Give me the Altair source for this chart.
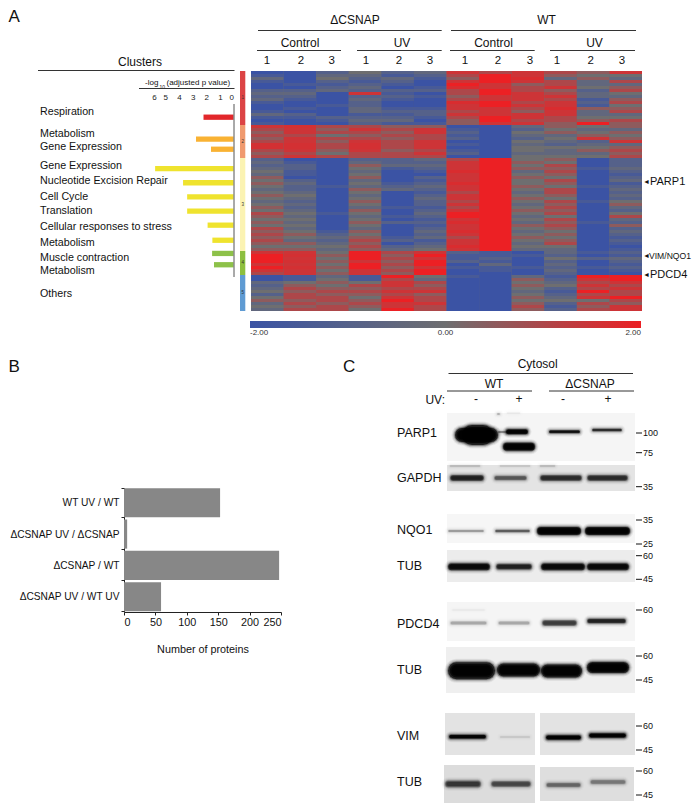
import altair as alt
import pandas as pd

FONT = "Liberation Sans"
# ---------- heat map: z-scores, one list per sample, split by cluster ----------
dc1 = [-2,-1.5,-.5,-1.5,-2,-2,-1,-.5,-1,-.5,-1.5,-2,-2,-1.5,-.5,-1.5,-2,-1.5,
       1.5,1,.5,1,.5,1,1.6,1.6,1,.5,1,
       -1,-.5,-1,-.5,0,-.5,.5,0,.5,0,-.5,0,.5,0,-.5,0,.5,0,1,.5,0,.5,0,1,.5,1,.5,1,.5,0,.5,
       1.5,2,2,2,1.5,2,1.5,1,
       -2,-2,-.5,-1,-.5,0,-1,0,.5,-.5,0,-.5]
dc2 = [-2,-2,-2,-2,-1.5,-2,-1,-.5,-1,-1.5,-2,-2,-1.5,-2,-1,-1.5,-2,-2,
       1.6,1.5,1.5,1,1.5,1.5,1.6,1.6,1.5,1,1.5,
       -2,-1.5,-1,-1,-1.5,-1.5,-2,-1,-.5,-1,-1,-.5,0,-.5,-1,-.5,-1,-.5,0,-.5,0,-.5,0,-.5,0,.5,0,-.5,.5,0,.5,
       1.5,1.6,1.5,1.6,1.5,1.6,1.5,1.5,
       -1.5,-1.5,0,.5,1,.5,1,1,.5,1,.5,1]
dc3 = [-1,-.5,0,-1,-1.5,-1,-.5,-2,-2,-2,-2,-1.5,-2,-2,-2,-1,-1.5,-2,
       1,.5,1,0,1,.5,1,1,.5,0,1,
       -2,-2,-2,-2,-2,-2,-2,-2,-2,-1.5,-2,-2,-2,-2,-2,-2,-2,-2,-1.5,-2,-2,-2,-2,-2,-1.5,-1,-.5,-1,-.5,0,-.5,
       0,.5,0,.5,0,.5,0,.5,
       -.5,0,.5,0,.5,1,.5,1,1,.5,1,1]
du1 = [0,-.5,-1,-1.5,-1,-.5,-1,1.5,-1,-.5,-1,-1,-.5,-.5,-1.5,-1,-.5,-1,
       1,1.5,1,.5,1,1.5,1.6,1.6,1.5,1,1,
       -1,-.5,.5,0,-.5,0,.5,-.5,0,-.5,.5,0,-.5,0,.5,0,-.5,.5,0,-.5,0,.5,0,-.5,.5,0,.5,1,.5,1,.5,
       2,2,2,1.5,2,2,1.5,1.5,
       -1.5,-1.5,0,1,.5,1,.5,0,.5,1,.5,0]
du2 = [-1,-1.5,-.5,-1,-1.5,-2,-1,-1.5,-1,-1.5,-2,-2,-1.5,-1,-1.5,-1,-.5,-1.5,
       .5,1,.5,1,.5,1,1,1,.5,1,1,
       -1,-1,-.5,-1.5,-2,-2,-2,-2,-1.5,-1,-.5,-2,-2,-2,-2,-2,-1.5,-2,-2,-1.5,-2,-1,-2,-2,-2,-2,-1.5,-1,-2,-1,-.5,
       1,.5,1,.5,1,.5,1,.5,
       2,1,1.5,1.5,1,1.5,1,1.5,2,1.5,1.5,2]
du3 = [-.5,-1,-1.5,-2,-2,-1.5,-1,-2,-1.5,-2,-2,-2,-1.5,-1,-1,-1.5,-2,-1.5,
       .5,1.5,1.5,1,1,1.5,1.5,1.5,1,1.5,1,
       -.5,-1,-.5,-1,-1.5,-2,-1,-1.5,-1,-.5,-1,-1.5,-1,-.5,-1,-1,-1.5,-1,-.5,-1,-1.5,-1,-1.5,-1,-.5,-1,-.5,-1.5,-1,-.5,0,
       1.5,2,1.5,2,2,1.5,2,2,
       0,-.5,1,.5,1,1.5,.5,1,1,1.5,1,1]
wc1 = [1.5,1,.5,1.5,2,1.7,1,1,.5,1,1.7,1.5,1.5,1,1.5,1,.5,.5,
       -2,-1.5,-1,-1.5,-1,-2,-1.5,-2,-1.5,-1,-2,
       1,1.5,1.5,1.5,1.7,1.5,1.5,1.5,1.7,1.5,1.5,1,1.5,1.5,1,1.5,1,1.5,2,2,1.5,1.7,1.5,1.5,1.7,1.5,1,1.5,1.5,1.7,1.5,
       -1,-1.5,-1.5,-1,-2,-1.5,-2,-2,
       -1.5,-2,-2,-2,-2,-2,-2,-2,-2,-2,-2,-2]
wc2 = [1,2,2,2,1.5,1.5,2,2,1.5,1.5,2,2,1.5,1.5,1.5,2,2,1.5,
       -2,-2,-2,-2,-2,-2,-2,-2,-2,-2,-2,
       2,2,2,2,2,2,2,2,2,2,2,2,2,2,2,2,2,2,2,2,2,2,2,2,2,2,2,2,2,2,2,
       -1.5,-1.5,-1,-1.5,-.5,-1.5,-1.5,-2,
       -2,-2,-2,-2,-2,-2,-2,-2,-2,-2,-2,-2]
wc3 = [1.5,1.5,1.7,1.5,.5,1,1,1.5,1.5,1.5,1,1.5,1,.5,1.5,1.5,1,1.5,
       -.5,-1,0,-.5,-1,0,-.5,0,0,-.5,0,
       0,.5,0,.5,-.5,0,.5,0,0,.5,0,-.5,0,.5,0,-.5,0,.5,0,-.5,0,-.5,.5,0,-.5,0,.5,0,-.5,0,-.5,
       -2,-1.5,-2,-2,-2,-1.5,-2,-2,
       -.5,.5,0,.5,0,-.5,0,.5,0,.5,1,.5]
wu1 = [1,.5,-.5,1,1,1.5,.5,1,1.5,1,1.5,1.5,1.7,1.5,1.5,1,1,.5,
       .5,0,.5,-.5,0,-.5,-1,0,-.5,-.5,0,
       .5,0,1,.5,1,.5,0,1,.5,0,1,1,.5,0,1,.5,1,.5,1,0,1,.5,1,.5,0,.5,0,.5,1,0,-.5,
       -.5,-1,0,-1,-.5,-1,-.5,-1,
       -1.5,-1,-.5,0,-1,-1.5,-1,-.5,0,-1,-1.5,-1]
wu2 = [.5,0,.5,-.5,-.5,0,-1,-.5,-.5,-1.5,-1,-1.5,.5,-.5,-.5,0,.5,2,
       0,-.5,0,.5,1.5,-1,-.5,0,.5,-.5,0,
       -2,-2,-2,-1.5,-2,-2,-2,-2,-2,-1.5,-2,-2,-2,-2,-1.5,-2,-2,-2,-2,-2,-2,-1.5,-2,-2,-2,-2,-2,-2,-2,-2,-2,
       -1.5,-2,-1,-2,-2,-1.5,-2,-2,
       2,1.5,1,1.5,1,2,1,1.5,0,1,.5,1]
wu3 = [1.5,0,-.5,1,-.5,.5,1,0,-.5,.5,1,0,.5,1,-.5,0,1,.5,
       .5,-.5,.5,0,.5,1.5,-.5,.5,1,.5,1,
       -1,-1,-1,-.5,-1,-1.5,-1,-.5,-1.5,-1,-.5,-1,-.5,-1,0,.5,-.5,-1,0,1,-.5,-1,.5,-1,-.5,-1,-1.5,-1,-1.5,-2,-1.5,
       -1,-1.5,-.5,-1,-1.5,-1,-1.5,-2,
       2,2,1.5,1,1.5,1,1,2,1,.5,1.5,1.5]
samples = ["dC1","dC2","dC3","dU1","dU2","dU3","wC1","wC2","wC3","wU1","wU2","wU3"]
sample_values = [dc1,dc2,dc3,du1,du2,du3,wc1,wc2,wc3,wu1,wu2,wu3]

cluster_ids = ["1","2","3","4","5"]
cluster_start = [0,18,29,60,68]
cluster_end = [18,29,60,68,80]
cluster_colors = ["#DC4344","#F09A6E","#FBF3B2","#8DBF3F","#5F9BD3"]

# ---------- enrichment bars ----------
pathways = ["Respiration","Metabolism","Gene Expression","Gene Expression","Nucleotide Excision Repair",
            "Cell Cycle","Translation","Cellular responses to stress","Metabolism","Muscle contraction","Metabolism"]
pathway_p = [2.2,2.75,1.65,5.75,3.7,3.4,3.4,1.9,1.55,1.57,1.43]
pathway_pos = [112.7,136,146.7,167.3,182.3,197.3,212.3,227.3,243.3,257.3,269.3]
pathway_colors = ["#E2272B","#F9B233","#F9B233","#EFE32E","#EFE32E","#EFE32E","#EFE32E","#EFE32E","#EFE32E","#8DC149","#8DC149"]
label_text = pathways + ["Others"]
label_pos = [112,133.5,146.5,166,181,196.5,211,227,242.5,258,271,294]

# ---------- panel B ----------
comparisons = ["WT UV / WT","ΔCSNAP UV / ΔCSNAP","ΔCSNAP / WT","ΔCSNAP UV / WT UV"]
protein_counts = [153,5,247,59]

# ---------- panel C: gel membranes and bands, in image coordinates ----------
mem_x0 = [447,447,447,447,447,446,445,540,444,540]
mem_x1 = [635,635,635,635,635,635,535,635,535,634]
mem_y0 = [413,465,514,550,602,647,713,713,765,767]
mem_y1 = [461,491,543,582,641,693,755,755,803,801]
mem_shade = ["#f5f5f5","#e4e4e4","#f6f6f6","#ececec","#f5f5f5","#efefef","#e3e3e3","#e3e3e3","#dcdcdc","#dedede"]

band_x0 = [455,462,498,506,503,549,592,
           450,494,540,587,450,500,540,
           448,495,537,585,
           448,496,541,587,
           450,498,542,587,452,
           448,497,541,587,
           449,500,546,589,
           445,491,546,590, 497,507]
band_x1 = [498,493,510,528,535,580,622,
           484,527,582,628,480,530,555,
           484,530,581,630,
           490,532,585,629,
           487,530,577,626,485,
           495,540,582,629,
           486,530,581,626,
           481,531,581,626, 500,520]
band_y = [435,435,432,431.7,446.7,431.7,430,
          478,478,478,478,466,466,466,
          531,531,531,531,
          566.7,566.7,566.7,566.7,
          623,623,623,621,610,
          670.7,670,671,667.5,
          736.7,737,737.5,735.5,
          784,784,785,782, 414,413]
band_t = [14,20,2,5,8,3,3,
          6,5,6,6,1,1,1,
          2.5,3,8,8,
          7,6,7,7,
          4,4,6,5,1.5,
          17,13,13,11,
          4,1.5,4.5,4.5,
          7,6,5,5, 1.5,1]
band_d = [1,1,.5,1,1,.85,.7,
          .75,.55,.7,.7,.35,.3,.35,
          .4,.55,1,1,
          .9,.75,.9,.9,
          .35,.35,.65,.75,.15,
          1,1,1,1,
          .95,.25,1,1,
          .65,.6,.5,.45, .4,.2]

mw_text = ["100","75","35","35","25","60","45","60","60","45","60","45","60","45"]
mw_pos = [433,452.7,486.7,520,544,555.7,579.3,610,656,680,726,750,771,795]

blot_text = ["PARP1","GAPDH","NQO1","TUB","PDCD4","TUB","VIM","TUB"]
blot_pos = [433,478,530,566,624,670,735.7,781.7]

layers = []

def P(v):
    return v - 8

def txt(s, x, y, size=12, align="center", **kw):
    return alt.Chart(pd.DataFrame({"t": [s]})).mark_text(
        fontSize=size, align=align, baseline="middle", font=FONT, color="#111", **kw
    ).encode(x=alt.value(P(x)), y=alt.value(P(y)), text="t:N")

def hline(x0, x1, y, color="#333", w=1):
    return alt.Chart(pd.DataFrame({"a": [0]})).mark_rule(color=color, strokeWidth=w).encode(
        x=alt.value(P(x0)), x2=alt.value(P(x1)), y=alt.value(P(y)))

# heat map
heat_rows = []
for s, vals in zip(samples, sample_values):
    assert len(vals) == 80, (s, len(vals))
    for i, v in enumerate(vals):
        heat_rows.append({"sample": s, "row": i, "row2": i + 1, "z": v})
heat_df = pd.DataFrame(heat_rows)
y_heat = alt.Scale(domain=[0, 80], range=[P(71), P(311)])
z_scale = alt.Scale(domain=[-2, 0, 2], range=["#3B53A4", "#6E6E70", "#EC2024"], interpolate="rgb")
layers.append(alt.Chart(pd.DataFrame({"a": [0]})).mark_rect(color="#6E6E70").encode(
    x=alt.value(P(251)), x2=alt.value(P(642)), y=alt.value(P(71)), y2=alt.value(P(311))))
heat = alt.Chart(heat_df).mark_rect().encode(
    x=alt.X("sample:N", sort=samples, scale=alt.Scale(domain=samples, range=[P(251), P(642)]), axis=None),
    y=alt.Y("row:Q", scale=y_heat, axis=None),
    y2="row2:Q",
    color=alt.Color("z:Q", scale=z_scale, legend=alt.Legend(
        type="gradient", orient="none", legendX=P(250), legendY=P(321), direction="horizontal", title=None,
        gradientLength=391, gradientThickness=7, values=[-2, 0, 2],
        labelExpr="replace(format(datum.value,'.2f'),'\u2212','-')",
        labelFontSize=8, labelFont=FONT, labelColor="#333", labelOffset=1, gradientStrokeWidth=0)),
)
layers.append(heat)

# cluster strip
cl_df = pd.DataFrame({"id": cluster_ids, "a": cluster_start, "b": cluster_end, "c": cluster_colors})
layers.append(alt.Chart(cl_df).mark_rect().encode(
    x=alt.value(P(240)), x2=alt.value(P(245.3)),
    y=alt.Y("a:Q", scale=y_heat, axis=None), y2="b:Q",
    color=alt.Color("c:N", scale=None)))
layers.append(alt.Chart(cl_df).transform_calculate(m="(datum.a+datum.b)/2").mark_text(
    fontSize=4.5, font=FONT, color="#333").encode(
    x=alt.value(P(242.7)), y=alt.Y("m:Q", scale=y_heat, axis=None), text="id:N"))

# enrichment bars
y_path = alt.Scale(domain=[104, 277], range=[P(104), P(277)])
path_df = pd.DataFrame({"p": pathway_p, "pos": pathway_pos, "c": pathway_colors})
layers.append(alt.Chart(path_df).mark_bar(orient="horizontal", size=5.3).encode(
    x=alt.X("p:Q", scale=alt.Scale(domain=[0, 6], range=[P(233.5), P(151.7)]),
            axis=alt.Axis(orient="top", offset=-(P(101)), values=[0, 1, 2, 3, 4, 5, 6], format="d",
                          domain=False, ticks=False, grid=False, labelPadding=0, labelFontSize=8,
                          labelFont=FONT, labelColor="#222", title=None)),
    y=alt.Y("pos:Q", scale=y_path, axis=None),
    color=alt.Color("c:N", scale=None)))
layers.append(alt.Chart(pd.DataFrame({"t": label_text, "pos": label_pos})).mark_text(
    align="left", fontSize=10.7, font=FONT, color="#111").encode(
    x=alt.value(P(40)), y=alt.Y("pos:Q", scale=y_path, axis=None), text="t:N"))
layers.append(alt.Chart(pd.DataFrame({"a": [0]})).mark_rule(color="#555", strokeWidth=1).encode(
    x=alt.value(P(234)), y=alt.value(P(104)), y2=alt.value(P(277))))

# panel A headings
layers += [
    txt("Clusters", 140, 62, 12), hline(38, 234.5, 70.5),
    txt("-log", 145, 83, 8, "left"), txt("10", 159.5, 87, 5, "left"), txt("(adjusted p value)", 166.5, 83, 8, "left"),
    hline(139, 234.5, 88.5),
    txt("ΔCSNAP", 355, 20, 12), hline(258, 441.7, 30.5),
    txt("WT", 546.5, 20, 12), hline(451, 636, 30.5),
    txt("Control", 300, 43, 12), hline(257, 341, 50.5),
    txt("UV", 402, 43, 12), hline(357, 441.7, 50.5),
    txt("Control", 493.5, 43, 12), hline(450, 534.7, 50.5),
    txt("UV", 594.5, 43, 12), hline(550, 635, 50.5),
    txt("◄", 643, 182, 7, "left"), txt("PARP1", 650, 182, 11, "left"),
    txt("◄", 643, 256, 7, "left"), txt("VIM/NQO1", 649, 256, 8.6, "left"),
    txt("◄", 643, 275, 7, "left"), txt("PDCD4", 650, 275, 11, "left"),
    txt("A", 8.5, 17, 17, "left"), txt("B", 8.5, 367, 17, "left"), txt("C", 343, 367, 17, "left"),
]
for x, n in zip([267, 301, 331.6, 366, 399, 430, 465, 498, 530, 557, 590.6, 622], "123123123123"):
    layers.append(txt(n, x, 61, 11.5))

# panel B
b_df = pd.DataFrame({"cmp": comparisons, "n": protein_counts})
layers.append(alt.Chart(b_df).mark_bar(color="#878787").encode(
    x=alt.X("n:Q", scale=alt.Scale(domain=[0, 250], range=[P(124), P(281)]),
            axis=alt.Axis(orient="bottom", offset=P(612) - 795, values=[0, 50, 100, 150, 200, 250], grid=False,
                          title="Number of proteins", titleFont=FONT, titleFontSize=10.8, titleFontWeight="normal",
                          titlePadding=17, titleColor="#111", labelFont=FONT, labelFontSize=10.8, labelColor="#111",
                          tickSize=3, labelPadding=1, domainColor="#222", tickColor="#222")),
    y=alt.Y("cmp:N", sort=comparisons,
            scale=alt.Scale(domain=comparisons, range=[P(487.5), P(612)], paddingInner=0.07, paddingOuter=0.02),
            axis=alt.Axis(orient="left", offset=-P(124), title=None, tickBand="extent", labelFont=FONT,
                          labelFontSize=10.2, labelColor="#111", tickSize=3, labelPadding=2, grid=False,
                          domainColor="#222", tickColor="#222"))))

# panel C: membranes
x_gel = alt.Scale(domain=[444, 635], range=[P(444), P(635)])
y_gel = alt.Scale(domain=[413, 803], range=[P(413), P(803)])
mem_df = pd.DataFrame({"x0": mem_x0, "x1": mem_x1, "y0": mem_y0, "y1": mem_y1, "c": mem_shade})
layers.append(alt.Chart(mem_df).mark_rect().encode(
    x=alt.X("x0:Q", scale=x_gel, axis=None), x2="x1:Q",
    y=alt.Y("y0:Q", scale=y_gel, axis=None), y2="y1:Q",
    color=alt.Color("c:N", scale=None)))

# panel C: bands, several soft passes so the edges fade and the core stays dark
band_df = pd.DataFrame({"x0": band_x0, "x1": band_x1, "y": band_y, "t": band_t, "d": band_d})
for factor, grow, alpha in [(1, 7, 0.06), (1, 5, 0.10), (1, 3, 0.18), (1, 1.5, 0.3), (1, 0, 0.7), (0.8, 0, 0.7), (0.6, 0, 0.8)]:
    layers.append(alt.Chart(band_df).transform_calculate(
        a="datum.x0+datum.t/2", b="max(datum.x0+datum.t/2, datum.x1-datum.t/2)",
        w=f"datum.t*{factor}+{grow}", o=f"datum.d*datum.d*{alpha}"
    ).mark_rule(color="#000", strokeCap="round").encode(
        x=alt.X("a:Q", scale=x_gel, axis=None), x2="b:Q",
        y=alt.Y("y:Q", scale=y_gel, axis=None),
        strokeWidth=alt.StrokeWidth("w:Q", scale=None),
        opacity=alt.Opacity("o:Q", scale=None)))

# panel C: text
layers += [
    txt("Cytosol", 537.7, 363.7, 12), hline(448.5, 633, 373.5),
    txt("WT", 494, 384, 12), hline(447, 532, 391),
    txt("ΔCSNAP", 590, 384, 12), hline(549, 634, 391),
    txt("UV:", 445, 400, 12, "right"),
    txt("-", 476, 399, 12), txt("+", 519, 399, 12), txt("-", 563, 399, 12), txt("+", 608, 399, 12),
]
layers.append(alt.Chart(pd.DataFrame({"t": blot_text, "pos": blot_pos})).mark_text(
    align="left", fontSize=12.5, font=FONT, color="#111").encode(
    x=alt.value(P(397)), y=alt.Y("pos:Q", scale=y_gel, axis=None), text="t:N"))
mw_df = pd.DataFrame({"t": mw_text, "pos": mw_pos})
layers.append(alt.Chart(mw_df).mark_text(
    align="left", fontSize=9, font=FONT, color="#111").encode(
    x=alt.value(P(643)), y=alt.Y("pos:Q", scale=y_gel, axis=None), text="t:N"))
layers.append(alt.Chart(mw_df).mark_rule(color="#111", strokeWidth=1).encode(
    x=alt.value(P(636)), x2=alt.value(P(642)), y=alt.Y("pos:Q", scale=y_gel, axis=None)))

chart = alt.layer(*layers).resolve_scale(
    x="independent", y="independent", color="independent"
).properties(
    width=684, height=795, padding=0, background="white",
    autosize=alt.AutoSizeParams(type="none")
).configure_view(stroke=None)

chart.save("out.html", embed_options={"renderer": "svg", "actions": False})
